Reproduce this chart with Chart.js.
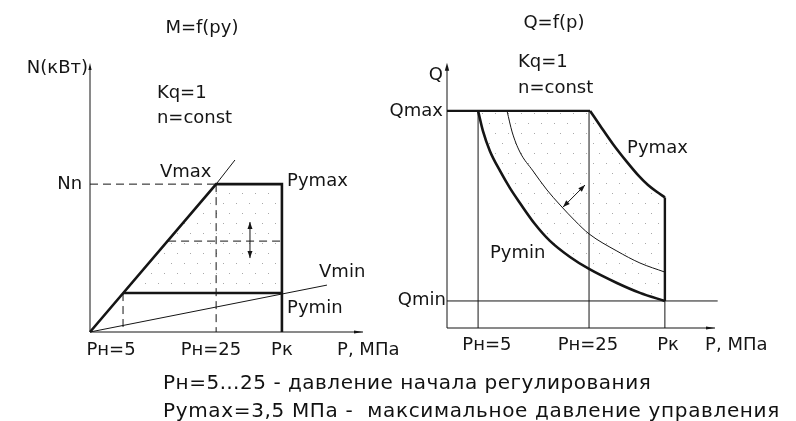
<!DOCTYPE html>
<html><head><meta charset="utf-8">
<script src="https://cdn.jsdelivr.net/npm/chart.js@4/dist/chart.umd.min.js"></script>
<style>
html,body{margin:0;padding:0;background:#fff;width:796px;height:421px;overflow:hidden;position:relative;}
canvas{position:absolute;top:0;}
#left{left:0;}
#right{left:370px;}
.note{position:absolute;left:163px;font:20px "DejaVu Sans";color:#111;white-space:pre;line-height:22px;letter-spacing:0.5px;}
</style></head><body>
<canvas id="left" width="400" height="421"></canvas>
<canvas id="right" width="426" height="421"></canvas>
<div class="note" id="n1" style="top:371px"></div>
<div class="note" id="n2" style="top:399px;letter-spacing:0.65px"></div>
<script>
// ---------- Left panel: N = f(pу) (schematic units 0..100) ----------
const leftTickLabels = ['Рн=5', 'Рн=25', 'Рк'];
const leftTickX      = [12.1, 46.2, 70.3];
const leftNn   = 55.8;   // rated power level
const leftNmin = 14.7;   // Pуmin level
const leftNmid = 34.3;   // intermediate (adjustable) level
const leftBold    = [{x:0,y:0},{x:46.2,y:55.8},{x:70.3,y:55.8},{x:70.3,y:0}];
const leftPymin   = [{x:12.1,y:14.7},{x:70.3,y:14.7}];
const leftVmaxExt = [{x:46.2,y:55.8},{x:53.1,y:64.9}];
const leftVmin    = [{x:0,y:0},{x:86.8,y:17.7}];
const leftRegion  = [{x:12.1,y:14.7},{x:46.2,y:55.8},{x:70.3,y:55.8},{x:70.3,y:14.7}];
const leftMidDash = [{x:28.6,y:34.3},{x:70.3,y:34.3}];
const leftArrowX = 58.6, leftArrowY = [27.9, 41.5];

// ---------- Right panel: Q = f(p) ----------
const rightTickLabels = ['Рн=5', 'Рн=25', 'Рк'];
const rightTickX      = [11.6, 53.0, 81.3];
const rightQmax = 83.5, rightQmin = 10.4;
const pyminCurve = [{x:11.6,y:83.5},{x:13.4,y:75.8},{x:16.0,y:68.1},{x:19.8,y:60.4},{x:23.5,y:53.8},
                    {x:27.2,y:48.1},{x:32.8,y:40.0},{x:38.4,y:33.5},{x:45.9,y:27.3},{x:53.0,y:22.7},
                    {x:63.4,y:17.3},{x:72.0,y:13.5},{x:81.3,y:10.4}];
const midCurve   = [{x:22.4,y:83.5},{x:24.3,y:75.4},{x:27.2,y:67.7},{x:32.1,y:60.4},{x:37.3,y:53.1},
                    {x:42.2,y:47.3},{x:47.8,y:41.2},{x:53.0,y:36.2},{x:63.4,y:29.6},{x:72.0,y:25.0},
                    {x:81.3,y:21.5}];
const pymaxCurve = [{x:53.4,y:83.5},{x:57.1,y:77.9},{x:61.9,y:70.8},{x:67.2,y:63.8},{x:71.3,y:58.8},
                    {x:75.0,y:55.0},{x:78.4,y:52.3},{x:81.3,y:50.2}];
const rightArrow = [{x:43.3,y:46.5},{x:51.5,y:55.0}];

const INK = '#151515';
function dotPattern(){
  const c = document.createElement('canvas'); c.width = 13; c.height = 20;
  const g = c.getContext('2d'); g.fillStyle = '#a9a9a9';
  g.fillRect(2,3,1,1); g.fillRect(8,13,1,1);
  return document.getElementById('left').getContext('2d').createPattern(c,'repeat');
}
const solid  = (data,w) => ({data, borderColor:INK, borderWidth:w, pointRadius:0, fill:false, tension:0, clip:false, borderDash:[]});
const dashed = (data)   => Object.assign(solid(data,1), {borderDash:[8,5]});
const curve  = (data,w) => Object.assign(solid(data,w), {cubicInterpolationMode:'monotone'});
const region = (data)   => ({data, borderWidth:0, pointRadius:0, fill:'shape', backgroundColor:dotPattern(), tension:0, order:10, clip:false});

const textPlugin = {id:'textLabels', afterDraw(chart, args, opts){
  const {ctx, scales:{x,y}} = chart; ctx.save();
  ctx.fillStyle = INK; ctx.font = '18px "DejaVu Sans"'; ctx.textBaseline = 'middle';
  for (const [t,vx,vy,al] of opts.items){ ctx.textAlign = al || 'left'; ctx.fillText(t, x.getPixelForValue(vx), y.getPixelForValue(vy)); }
  ctx.restore();
}};
function head(ctx, tx, ty, fx, fy, len, half){
  const a = Math.atan2(ty-fy, tx-fx);
  ctx.beginPath(); ctx.moveTo(tx,ty);
  ctx.lineTo(tx - len*Math.cos(a) + half*Math.sin(a), ty - len*Math.sin(a) - half*Math.cos(a));
  ctx.lineTo(tx - len*Math.cos(a) - half*Math.sin(a), ty - len*Math.sin(a) + half*Math.cos(a));
  ctx.closePath(); ctx.fill();
}
const arrowPlugin = {id:'arrows', afterDatasetsDraw(chart, args, opts){
  const {ctx, scales:{x,y}} = chart; ctx.save(); ctx.fillStyle = INK; ctx.strokeStyle = INK; ctx.lineWidth = 1;
  for (const a of opts.items){
    const fx = x.getPixelForValue(a.from.x), fy = y.getPixelForValue(a.from.y);
    const tx = x.getPixelForValue(a.to.x),   ty = y.getPixelForValue(a.to.y);
    if (a.shaft){ ctx.beginPath(); ctx.moveTo(fx,fy); ctx.lineTo(tx,ty); ctx.stroke(); }
    head(ctx, tx, ty, fx, fy, a.len, a.half);
    if (a.both) head(ctx, fx, fy, tx, ty, a.len, a.half);
  }
  ctx.restore();
}};
function baseOptions(pad, labels, arrows){
  return {responsive:false, animation:false, events:[],
    layout:{padding:pad},
    scales:{x:{type:'linear',min:0,max:100,display:false}, y:{type:'linear',min:0,max:100,display:false}},
    plugins:{legend:{display:false}, tooltip:{enabled:false}, title:{display:false},
             textLabels:{items:labels}, arrows:{items:arrows}}};
}

// ----- left chart -----
const leftLabels = [
  ['M=f(pу)', 41, 114.7, 'center'], ['N(кВт)', -0.7, 99.6, 'right'],
  ['Kq=1', 24.5, 90.2], ['n=const', 24.5, 80.8], ['Vmax', 25.6, 60.4],
  ['Nn', -2.9, leftNn, 'right'], ['Руmax', 72.2, 57], ['Vmin', 83.9, 22.6], ['Руmin', 72.2, 9.1],
  [leftTickLabels[0], 7.7, -6.8, 'center'], [leftTickLabels[1], 44.3, -6.8, 'center'],
  [leftTickLabels[2], leftTickX[2], -6.8, 'center'], ['Р, МПа', 90.5, -6.8]
];
const leftArrows = [
  {from:{x:0,y:95}, to:{x:0,y:101.5}, len:7, half:1.6},
  {from:{x:95,y:0}, to:{x:100,y:0}, len:9, half:1.4},
  {from:{x:leftArrowX,y:leftArrowY[0]}, to:{x:leftArrowX,y:leftArrowY[1]}, len:7, half:2.5, both:true, shaft:true}
];
new Chart(document.getElementById('left'), {
  type:'line',
  data:{datasets:[
    region(leftRegion),
    solid([{x:0,y:0},{x:0,y:100}],1), solid([{x:0,y:0},{x:100,y:0}],1),
    dashed([{x:0,y:leftNn},{x:leftTickX[1],y:leftNn}]),
    dashed([{x:leftTickX[1],y:leftNn},{x:leftTickX[1],y:0}]),
    dashed([{x:leftTickX[0],y:leftNmin},{x:leftTickX[0],y:0}]),
    dashed(leftMidDash),
    solid(leftVmaxExt,1), solid(leftVmin,1),
    solid(leftBold,2.6), solid(leftPymin,2.6)
  ]},
  options: baseOptions({left:90,right:37,top:67,bottom:89}, leftLabels, leftArrows),
  plugins:[textPlugin, arrowPlugin]
});

// ----- right chart -----
const rightLabels = [
  ['Q=f(р)', 39.9, 117.3, 'center'], ['Kq=1', 26.5, 102.3], ['n=const', 26.5, 92.3],
  ['Q', -1.5, 97.3, 'right'], ['Qmax', -1.5, rightQmax, 'right'], ['Руmax', 67.2, 69.2],
  ['Руmin', 16, 28.8], ['Qmin', -0.4, rightQmin + 0.4, 'right'],
  [rightTickLabels[0], 14.9, -6.5, 'center'], [rightTickLabels[1], 52.6, -6.5, 'center'],
  [rightTickLabels[2], 82.5, -6.5, 'center'], ['Р, МПа', 96.3, -6.5]
];
const rightArrows = [
  {from:{x:0,y:95}, to:{x:0,y:102}, len:8, half:2.2},
  {from:{x:95,y:0}, to:{x:100,y:0}, len:9, half:1.4},
  {from:rightArrow[0], to:rightArrow[1], len:7, half:2.5, both:true, shaft:true}
];
new Chart(document.getElementById('right'), {
  type:'line',
  data:{datasets:[
    region([...pymaxCurve, ...pyminCurve.slice().reverse()]),
    solid([{x:0,y:0},{x:0,y:100}],1), solid([{x:0,y:0},{x:100,y:0}],1),
    solid([{x:0,y:rightQmin},{x:101,y:rightQmin}],1),
    solid([{x:rightTickX[0],y:0},{x:rightTickX[0],y:rightQmax}],1),
    solid([{x:rightTickX[1],y:0},{x:rightTickX[1],y:rightQmax}],1),
    solid([{x:rightTickX[2],y:0},{x:rightTickX[2],y:rightQmin}],1),
    solid([{x:rightTickX[2],y:rightQmin},{x:rightTickX[2],y:pymaxCurve[pymaxCurve.length-1].y}],2.4),
    solid([{x:0,y:rightQmax},{x:pymaxCurve[0].x,y:rightQmax}],2.4),
    curve(midCurve,1),
    curve(pyminCurve,2.6), curve(pymaxCurve,2.6)
  ]},
  options: baseOptions({left:77,right:81,top:68,bottom:93}, rightLabels, rightArrows),
  plugins:[textPlugin, arrowPlugin]
});

const notes = ['Рн=5…25 - давление начала регулирования', 'Руmax=3,5 МПа -  максимальное давление управления'];
document.getElementById('n1').textContent = notes[0];
document.getElementById('n2').textContent = notes[1];
</script>
</body></html>
